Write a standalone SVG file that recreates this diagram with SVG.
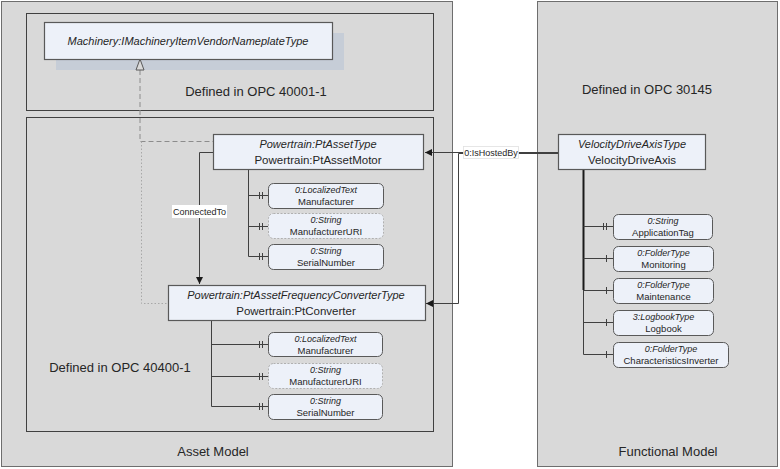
<svg xmlns="http://www.w3.org/2000/svg" width="780" height="469" viewBox="0 0 780 469">
<defs>
<style>
.area{fill:#d9d9d9;stroke:#6e6e6e;stroke-width:1}
.inner{fill:#d9d9d9;stroke:#404040;stroke-width:1}
.node{fill:#edf1f9;stroke:#595959;stroke-width:1.2}
.prop{fill:#edf1f9;stroke:#595959;stroke-width:1}
.propopt{fill:#edf1f9;stroke:#b0b0b0;stroke-width:1;stroke-dasharray:2,1.5}
.t{font-family:"Liberation Sans",Arial,sans-serif;fill:#262626}
.big{font-size:13px}
.title{font-size:11.5px;text-anchor:middle}
.ti{font-size:11px;font-style:italic;text-anchor:middle}
.ps{font-size:9px;font-style:italic;text-anchor:middle}
.pn{font-size:9.5px;text-anchor:middle}
.ln{fill:none;stroke:#404040;stroke-width:1}
.tick{stroke:#404040;stroke-width:1}
</style>
<marker id="arr" viewBox="0 0 10 10" refX="10" refY="5" markerWidth="7" markerHeight="7" markerUnits="userSpaceOnUse" orient="auto">
<path d="M0,0 L10,5 L0,10 z" fill="#1a1a1a"/>
</marker>
</defs>
<rect width="780" height="469" fill="#ffffff"/>

<g id="asset-model">
<rect class="area" x="1.5" y="1.5" width="451" height="465"/>
<text class="t big" x="213" y="456" text-anchor="middle">Asset Model</text>
</g>
<g id="functional-model">
<rect class="area" x="537.5" y="1.5" width="240" height="465"/>
<text class="t big" x="668" y="456" text-anchor="middle">Functional Model</text>
<text class="t big" x="647" y="94" text-anchor="middle">Defined in OPC 30145</text>
</g>
<g id="opc40001">
<rect class="inner" x="26.5" y="13.5" width="407" height="97"/>
<text class="t big" x="256" y="96" text-anchor="middle">Defined in OPC 40001-1</text>
</g>
<g id="opc40400">
<rect class="inner" x="26.5" y="117.5" width="407" height="314"/>
<text class="t big" x="120" y="372" text-anchor="middle">Defined in OPC 40400-1</text>
</g>

<g id="machinery-nameplate">
<rect x="56" y="33" width="288" height="37" fill="#c6cdd7"/>
<rect class="node" x="44.5" y="22.5" width="288" height="37"/>
<text class="t ti" x="188" y="45" fill="#404040">Machinery:IMachineryItemVendorNameplateType</text>
</g>

<g id="connectors">
<path d="M140,70 V141.5 H213" fill="none" stroke="#8c8c8c" stroke-width="1" stroke-dasharray="5,3"/>
<path d="M141.5,141.5 V303.5 H168" fill="none" stroke="#a8a8a8" stroke-width="1" stroke-dasharray="1.5,2"/>
<path d="M140,59 L144,70 L136,70 Z" fill="#d9d9d9" stroke="#595959" stroke-width="1"/>
<path class="ln" d="M213,152.5 H199.5 V284" marker-end="url(#arr)"/>
<rect x="172" y="205" width="55" height="13" fill="#ffffff"/>
<text class="t" x="199.5" y="215" font-size="9" text-anchor="middle">ConnectedTo</text>
<path class="ln" d="M558,152.5 H425" marker-end="url(#arr)"/>
<path class="ln" d="M558,153.5 H458.5 V303.5 H426" marker-end="url(#arr)"/>
<rect x="463.5" y="146.5" width="55" height="12" fill="#ffffff" stroke="#e0e0e0" stroke-width="0.8"/>
<text class="t" x="491" y="156" font-size="9" text-anchor="middle">0:IsHostedBy</text>
<path class="ln" d="M248.5,169 V256.5 H268 M248.5,195.5 H268 M248.5,226.5 H268"/>
<path class="tick" d="M259.5,192 v7 M262.5,192 v7 M259.5,223 v7 M262.5,223 v7 M259.5,253 v7 M262.5,253 v7"/>
<path class="ln" d="M211.5,321 V406.5 H268 M211.5,344.5 H268 M211.5,376.5 H268"/>
<path class="tick" d="M259.5,341 v7 M262.5,341 v7 M259.5,373 v7 M262.5,373 v7 M259.5,403 v7 M262.5,403 v7"/>
<path d="M583.5,170 V290" stroke="#1a1a1a" stroke-width="2" fill="none"/>
<path class="ln" d="M583.5,290 V354.5 H613 M583.5,226.5 H613 M583.5,258.5 H613 M583.5,290.5 H613 M583.5,322.5 H613"/>
<path class="tick" d="M603.5,223 v7 M606.5,223 v7 M606.5,255 v7 M606.5,287 v7 M606.5,319 v7 M606.5,351 v7"/>
</g>

<g id="pt-asset-motor">
<rect class="node" x="213.5" y="134.5" width="210" height="35"/>
<text class="t ti" x="318" y="148">Powertrain:PtAssetType</text>
<text class="t title" x="318" y="164">Powertrain:PtAssetMotor</text>
</g>
<g id="motor-manufacturer">
<rect class="prop" x="268.5" y="183.5" width="115" height="25" rx="5"/>
<text class="t ps" x="326" y="193">0:LocalizedText</text>
<text class="t pn" x="326" y="204.5">Manufacturer</text>
</g>
<g id="motor-manufacturer-uri">
<rect class="propopt" x="268.5" y="213.5" width="115" height="25" rx="5"/>
<text class="t ps" x="326" y="223">0:String</text>
<text class="t pn" x="326" y="234.5">ManufacturerURI</text>
</g>
<g id="motor-serial">
<rect class="prop" x="268.5" y="244.5" width="115" height="25" rx="5"/>
<text class="t ps" x="326" y="254">0:String</text>
<text class="t pn" x="326" y="265.5">SerialNumber</text>
</g>

<g id="pt-converter">
<rect class="node" x="168.5" y="285.5" width="257" height="35"/>
<text class="t ti" x="296" y="299">Powertrain:PtAssetFrequencyConverterType</text>
<text class="t title" x="296" y="315">Powertrain:PtConverter</text>
</g>
<g id="conv-manufacturer">
<rect class="prop" x="268.5" y="332.5" width="114" height="24" rx="5"/>
<text class="t ps" x="325.5" y="342">0:LocalizedText</text>
<text class="t pn" x="325.5" y="353.5">Manufacturer</text>
</g>
<g id="conv-manufacturer-uri">
<rect class="propopt" x="268.5" y="363.5" width="114" height="25" rx="5"/>
<text class="t ps" x="325.5" y="373">0:String</text>
<text class="t pn" x="325.5" y="384.5">ManufacturerURI</text>
</g>
<g id="conv-serial">
<rect class="prop" x="268.5" y="394.5" width="114" height="25" rx="5"/>
<text class="t ps" x="325.5" y="404">0:String</text>
<text class="t pn" x="325.5" y="415.5">SerialNumber</text>
</g>

<g id="velocity-drive-axis">
<rect class="node" x="558.5" y="134.5" width="147" height="35"/>
<text class="t ti" x="632" y="148">VelocityDriveAxisType</text>
<text class="t title" x="632" y="164">VelocityDriveAxis</text>
</g>
<g id="application-tag">
<rect class="prop" x="613.5" y="214.5" width="99" height="25" rx="5"/>
<text class="t ps" x="663" y="224">0:String</text>
<text class="t pn" x="663" y="235.5">ApplicationTag</text>
</g>
<g id="monitoring">
<rect class="prop" x="613.5" y="246.5" width="100" height="25" rx="5"/>
<text class="t ps" x="663.5" y="256">0:FolderType</text>
<text class="t pn" x="663.5" y="267.5">Monitoring</text>
</g>
<g id="maintenance">
<rect class="prop" x="613.5" y="278.5" width="100" height="25" rx="5"/>
<text class="t ps" x="663.5" y="288">0:FolderType</text>
<text class="t pn" x="663.5" y="299.5">Maintenance</text>
</g>
<g id="logbook">
<rect class="prop" x="613.5" y="310.5" width="100" height="25" rx="5"/>
<text class="t ps" x="663.5" y="320">3:LogbookType</text>
<text class="t pn" x="663.5" y="331.5">Logbook</text>
</g>
<g id="characteristics-inverter">
<rect class="prop" x="613.5" y="342.5" width="115" height="25" rx="5"/>
<text class="t ps" x="671" y="352">0:FolderType</text>
<text class="t pn" x="671" y="363.5">CharacteristicsInverter</text>
</g>
</svg>
